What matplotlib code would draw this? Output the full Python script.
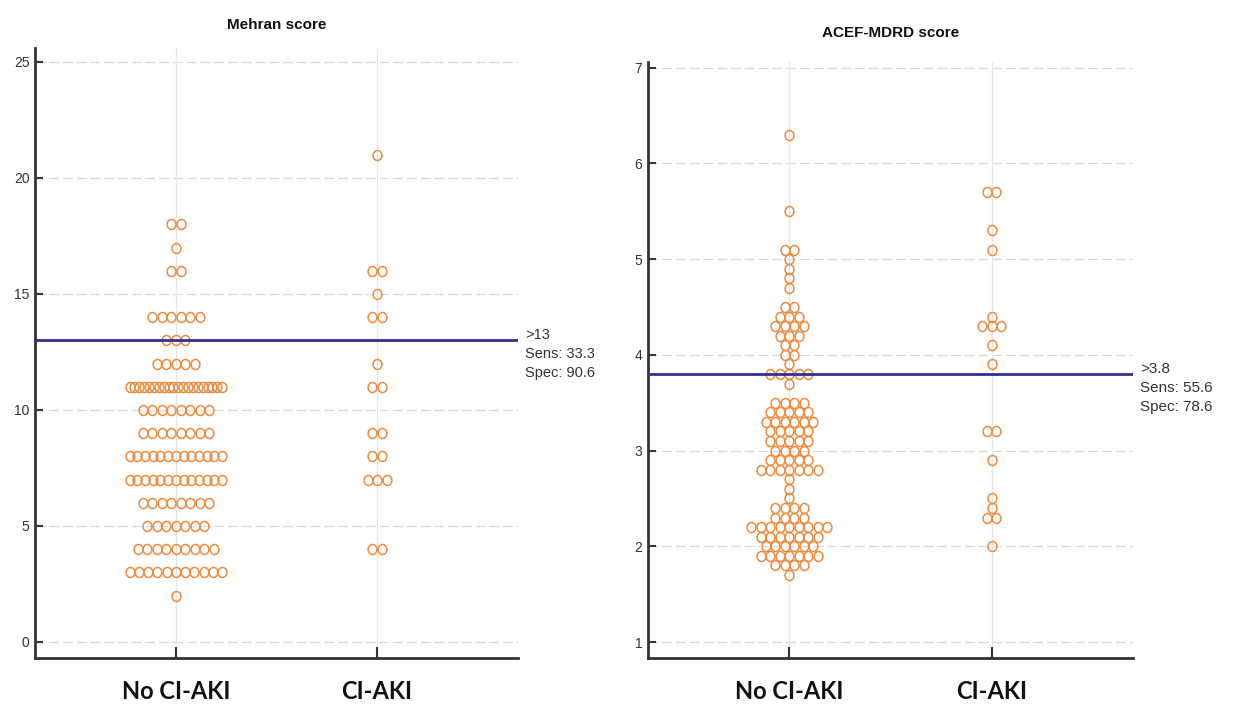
import matplotlib
matplotlib.use("Agg")
import matplotlib.pyplot as plt
from matplotlib.path import Path
import numpy as np

# ---------------- data ----------------
categories = ["No CI-AKI", "CI-AKI"]

# Mehran score: value -> count
mehran_no_vals = [18, 17, 16, 14, 13, 12, 11, 10, 9, 8, 7, 6, 5, 4, 3, 2]
mehran_no_cnts = [2, 1, 2, 6, 3, 5, 20, 8, 8, 13, 13, 8, 7, 9, 11, 1]
mehran_aki_vals = [21, 16, 15, 14, 12, 11, 9, 8, 7, 4]
mehran_aki_cnts = [1, 2, 1, 2, 1, 2, 2, 2, 3, 2]
mehran_cut = 13
mehran_text = ">13\nSens: 33.3\nSpec: 90.6"

# ACEF-MDRD score: value -> count
acef_no_vals = [6.3, 5.5, 5.1, 5.0, 4.9, 4.8, 4.7, 4.5, 4.4, 4.3, 4.2, 4.1, 4.0, 3.9,
                3.8, 3.7, 3.5, 3.4, 3.3, 3.2, 3.1, 3.0, 2.9, 2.8, 2.7, 2.6, 2.5,
                2.4, 2.3, 2.2, 2.1, 2.0, 1.9, 1.8, 1.7]
acef_no_cnts = [1, 1, 2, 1, 1, 1, 1, 2, 3, 4, 3, 2, 2, 1,
                5, 1, 4, 5, 6, 5, 5, 4, 5, 7, 1, 1, 1,
                4, 4, 9, 7, 6, 7, 4, 1]
acef_aki_vals = [5.7, 5.3, 5.1, 4.4, 4.3, 4.1, 3.9, 3.2, 2.9, 2.5, 2.4, 2.3, 2.0]
acef_aki_cnts = [2, 1, 1, 1, 3, 1, 1, 2, 1, 1, 1, 2, 1]
acef_cut = 3.8
acef_text = ">3.8\nSens: 55.6\nSpec: 78.6"

# ---------------- style ----------------
DOT_COLOR = "#EE8A3C"
LINE_COLOR = "#2E3192"
AXIS_COLOR = "#333333"
GRID_COLOR = "#D9D9D9"
SANS = ["Liberation Sans", "DejaVu Sans"]
STEP = 0.047      # horizontal step between dots (data units)
MAXSPAN = 0.46    # maximal row width (data units)

# slightly tall elliptical hollow marker
_t = np.linspace(0, 2 * np.pi, 41)
ELLIPSE = Path(np.column_stack([0.44 * np.cos(_t), 0.5 * np.sin(_t)]), closed=True)


def swarm(ax, xc, vals, cnts):
    xs, ys = [], []
    for v, n in zip(vals, cnts):
        s = STEP if n <= 1 else min(STEP, MAXSPAN / (n - 1))
        for i in range(n):
            xs.append(xc + (i - (n - 1) / 2) * s)
            ys.append(v)
    ax.plot(xs, ys, linestyle="none", marker=ELLIPSE, markersize=7.2,
            markerfacecolor="none", markeredgecolor=DOT_COLOR,
            markeredgewidth=1.1, zorder=3)


def setup(ax, ylim, yticks, title, title_y):
    ax.set_xlim(0.3, 2.7)
    ax.set_ylim(*ylim)
    for sp in ["top", "right"]:
        ax.spines[sp].set_visible(False)
    for sp in ["left", "bottom"]:
        ax.spines[sp].set_color(AXIS_COLOR)
        ax.spines[sp].set_linewidth(2.0)
    ax.set_yticks(yticks)
    ax.set_yticklabels([str(t) for t in yticks], family=SANS, fontsize=10,
                       color=AXIS_COLOR)
    ax.set_xticks([1, 2])
    ax.set_xticklabels(categories, family=["Lato", "DejaVu Sans"],
                       fontweight="bold", fontsize=17, color="#111111")
    ax.tick_params(axis="y", direction="in", length=6, width=1.5,
                   color=AXIS_COLOR, pad=4)
    ax.tick_params(axis="x", direction="in", length=8, width=1.5,
                   color=AXIS_COLOR, pad=16)
    for t in yticks:
        ax.axhline(t, color=GRID_COLOR, lw=0.9, ls=(0, (8, 3)), zorder=1)
    for x in [1, 2]:
        ax.axvline(x, color="#E6E6E6", lw=0.9, zorder=1)
    ax.text(0.5, title_y, title, transform=ax.transAxes, ha="center",
            va="center", family=SANS, fontweight="bold", fontsize=11,
            color="#111111")


fig = plt.figure(figsize=(12.34, 7.11), dpi=100)
ax1 = fig.add_axes([35 / 1234, 1 - 658 / 711, 483 / 1234, 610 / 711])
ax2 = fig.add_axes([648 / 1234, 1 - 658 / 711, 485 / 1234, 596 / 711])

setup(ax1, (-0.69, 25.6), [0, 5, 10, 15, 20, 25], "Mehran score", 1.038)
setup(ax2, (0.833, 7.06), [1, 2, 3, 4, 5, 6, 7], "ACEF-MDRD score", 1.048)

swarm(ax1, 1, mehran_no_vals, mehran_no_cnts)
swarm(ax1, 2, mehran_aki_vals, mehran_aki_cnts)
swarm(ax2, 1, acef_no_vals, acef_no_cnts)
swarm(ax2, 2, acef_aki_vals, acef_aki_cnts)

for ax, cut, txt, fs in [(ax1, mehran_cut, mehran_text, 10.5),
                         (ax2, acef_cut, acef_text, 11)]:
    ax.axhline(cut, color=LINE_COLOR, lw=2.0, zorder=4)
    ax.annotate(txt, xy=(1.0, cut), xycoords=("axes fraction", "data"),
                xytext=(5, -10), textcoords="offset points", ha="left",
                va="center", family=SANS, fontsize=fs, color="#333333",
                linespacing=1.45, annotation_clip=False)

fig.savefig("out.png", dpi=100, facecolor="white")
